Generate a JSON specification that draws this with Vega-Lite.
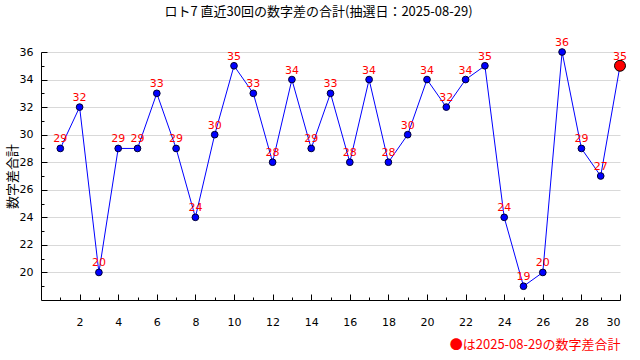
{
  "$schema": "https://vega.github.io/schema/vega-lite/v6.json",
  "autosize": "none",
  "width": 579,
  "height": 248,
  "padding": {"left": 41, "top": 52, "right": 20, "bottom": 60},
  "background": "white",
  "config": {"view": {"stroke": null}},
  "title": {
    "text": "ロト7 直近30回の数字差の合計(抽選日：2025-08-29)",
    "font": "Noto Sans CJK JP",
    "fontSize": 13,
    "fontWeight": "normal",
    "color": "#000000",
    "anchor": "middle",
    "dx": -12,
    "offset": 18
  },
  "data": {"values": [
    {"n": 1, "v": 29}, {"n": 2, "v": 32}, {"n": 3, "v": 20}, {"n": 4, "v": 29}, {"n": 5, "v": 29},
    {"n": 6, "v": 33}, {"n": 7, "v": 29}, {"n": 8, "v": 24}, {"n": 9, "v": 30}, {"n": 10, "v": 35},
    {"n": 11, "v": 33}, {"n": 12, "v": 28}, {"n": 13, "v": 34}, {"n": 14, "v": 29}, {"n": 15, "v": 33},
    {"n": 16, "v": 28}, {"n": 17, "v": 34}, {"n": 18, "v": 28}, {"n": 19, "v": 30}, {"n": 20, "v": 34},
    {"n": 21, "v": 32}, {"n": 22, "v": 34}, {"n": 23, "v": 35}, {"n": 24, "v": 24}, {"n": 25, "v": 19},
    {"n": 26, "v": 20}, {"n": 27, "v": 36}, {"n": 28, "v": 29}, {"n": 29, "v": 27}, {"n": 30, "v": 35}
  ]},
  "layer": [
    {
      "mark": {"type": "line", "color": "#0000ff", "strokeWidth": 1},
      "encoding": {
        "x": {"field": "n", "type": "quantitative", "scale": {"domain": [0, 30], "nice": false, "zero": false},
          "axis": {"orient": "bottom", "values": [2,4,6,8,10,12,14,16,18,20,22,24,26,28,30], "tickSize": -6, "tickColor": "#000", "domainColor": "#000",
            "labelFont": "DejaVu Sans", "labelFontSize": 11, "labelColor": "#000", "labelPadding": 22, "grid": false,
            "title": "●は2025-08-29の数字差合計", "titleFont": "Noto Sans CJK JP", "titleFontSize": 13, "titleFontWeight": "normal",
            "titleColor": "#ff0000", "titleAnchor": "end", "titleAlign": "right", "titlePadding": 11}},
        "y": {"field": "v", "type": "quantitative", "scale": {"domain": [18, 36], "nice": false, "zero": false},
          "axis": {"orient": "left", "values": [20,22,24,26,28,30,32,34,36], "tickSize": -6, "tickColor": "#000", "domainColor": "#000",
            "labelFont": "DejaVu Sans", "labelFontSize": 11, "labelColor": "#000", "labelPadding": 14,
            "grid": true, "gridColor": "#d9d9d9",
            "title": "数字差合計", "titleFont": "Noto Sans CJK JP", "titleFontSize": 13, "titleFontWeight": "normal", "titleColor": "#000", "titlePadding": 0}}
      }
    },
    {
      "mark": {"type": "point", "filled": true, "color": "#0000ff", "stroke": "#000033", "strokeWidth": 1, "size": 45, "opacity": 1},
      "encoding": {
        "x": {"field": "n", "type": "quantitative",
          "axis": {"orient": "bottom", "values": [1,3,5,7,9,11,13,15,17,19,21,23,25,27,29], "tickSize": -3, "tickColor": "#000", "domain": false, "labels": false, "grid": false, "title": null}},
        "y": {"field": "v", "type": "quantitative",
          "axis": {"orient": "left", "values": [19,21,23,25,27,29,31,33,35], "tickSize": -3, "tickColor": "#000", "domain": false, "labels": false, "grid": false, "title": null}}
      }
    },
    {
      "transform": [{"filter": "datum.n == 30"}],
      "mark": {"type": "point", "filled": true, "color": "#ff0000", "stroke": "#000000", "strokeWidth": 1, "size": 120, "opacity": 1},
      "encoding": {
        "x": {"field": "n", "type": "quantitative", "axis": null},
        "y": {"field": "v", "type": "quantitative", "axis": null}
      }
    },
    {
      "mark": {"type": "text", "color": "#ff0000", "font": "DejaVu Sans", "fontSize": 11, "baseline": "bottom", "dy": -4},
      "encoding": {
        "x": {"field": "n", "type": "quantitative", "axis": null},
        "y": {"field": "v", "type": "quantitative", "axis": null},
        "text": {"field": "v", "type": "quantitative"}
      }
    }
  ],
  "resolve": {"axis": {"x": "independent", "y": "independent"}}
}
